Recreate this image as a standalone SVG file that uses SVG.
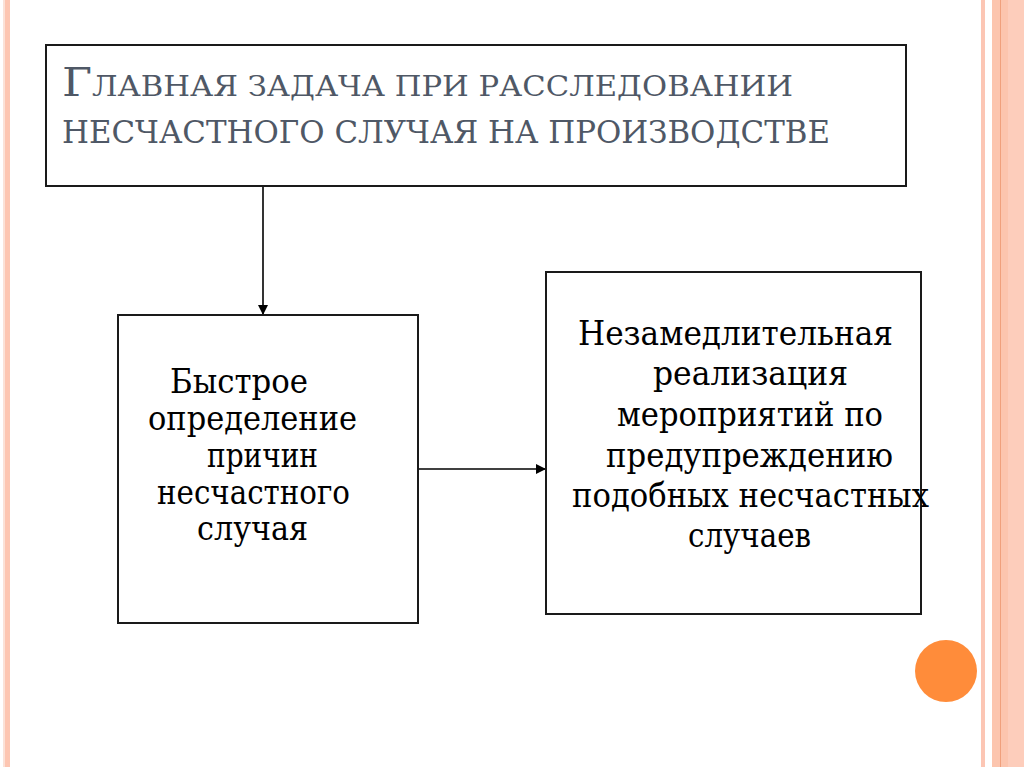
<svg xmlns="http://www.w3.org/2000/svg" width="1024" height="767" viewBox="0 0 1024 767">
<defs>
<style>
.box{fill:#ffffff;stroke:#1a1a1a;stroke-width:2}
.body{font-family:'DejaVu Serif',serif;font-size:33px;fill:#000000}
.title{font-family:'DejaVu Serif',serif;fill:#4f5866}
.conn{stroke:#000000;stroke-width:1.6;fill:none}
</style>
<marker id="arr" viewBox="0 0 10 10" refX="10" refY="5" markerWidth="10" markerHeight="10" markerUnits="userSpaceOnUse" orient="auto">
<path d="M0,0 L10,5 L0,10 Z" fill="#000000"/>
</marker>
</defs>
<rect x="0" y="0" width="1024" height="767" fill="#ffffff"/>
<g id="decor">
<rect x="3" y="0" width="2" height="767" fill="#fbe2d8"/>
<rect x="5" y="0" width="5" height="767" fill="#fdc6b2"/>
<rect x="981" y="0" width="4" height="767" fill="#fcc6b4"/>
<rect x="992" y="0" width="32" height="767" fill="#fdcdbb"/>
<rect x="992" y="0" width="16" height="767" fill="#fcc5ae"/>
<rect x="1000" y="0" width="1" height="767" fill="#f0a07c"/>
<circle cx="946" cy="671" r="31" fill="#ff8c3a"/>
</g>
<g id="connectors">
<line class="conn" x1="263" y1="187" x2="263" y2="315" marker-end="url(#arr)"/>
<line class="conn" x1="419" y1="469" x2="546" y2="469" marker-end="url(#arr)"/>
</g>
<g id="node-title">
<rect class="box" x="46" y="45" width="860" height="141"/>
<text class="title" x="62" y="96" textLength="731" lengthAdjust="spacingAndGlyphs"><tspan font-size="40">Г</tspan><tspan font-size="27">ЛАВНАЯ ЗАДАЧА ПРИ РАССЛЕДОВАНИИ</tspan></text>
<text class="title" x="62" y="143" font-size="31" textLength="768" lengthAdjust="spacingAndGlyphs">НЕСЧАСТНОГО СЛУЧАЯ НА ПРОИЗВОДСТВЕ</text>
</g>
<g id="node-left">
<rect class="box" x="118" y="315" width="300" height="308"/>
<text class="body" x="170" y="393" textLength="138" lengthAdjust="spacingAndGlyphs">Быстрое</text>
<text class="body" x="148" y="430" textLength="209" lengthAdjust="spacingAndGlyphs">определение</text>
<text class="body" x="207" y="467" textLength="111" lengthAdjust="spacingAndGlyphs">причин</text>
<text class="body" x="157" y="504" textLength="193" lengthAdjust="spacingAndGlyphs">несчастного</text>
<text class="body" x="197" y="540" textLength="111" lengthAdjust="spacingAndGlyphs">случая</text>
</g>
<g id="node-right">
<rect class="box" x="546" y="272" width="375" height="342"/>
<text class="body" x="578" y="345" textLength="315" lengthAdjust="spacingAndGlyphs">Незамедлительная</text>
<text class="body" x="653" y="385" textLength="195" lengthAdjust="spacingAndGlyphs">реализация</text>
<text class="body" x="617" y="426" textLength="266" lengthAdjust="spacingAndGlyphs">мероприятий по</text>
<text class="body" x="606" y="467" textLength="287" lengthAdjust="spacingAndGlyphs">предупреждению</text>
<text class="body" x="572" y="507" textLength="357" lengthAdjust="spacingAndGlyphs">подобных несчастных</text>
<text class="body" x="688" y="547" textLength="123" lengthAdjust="spacingAndGlyphs">случаев</text>
</g>
</svg>
